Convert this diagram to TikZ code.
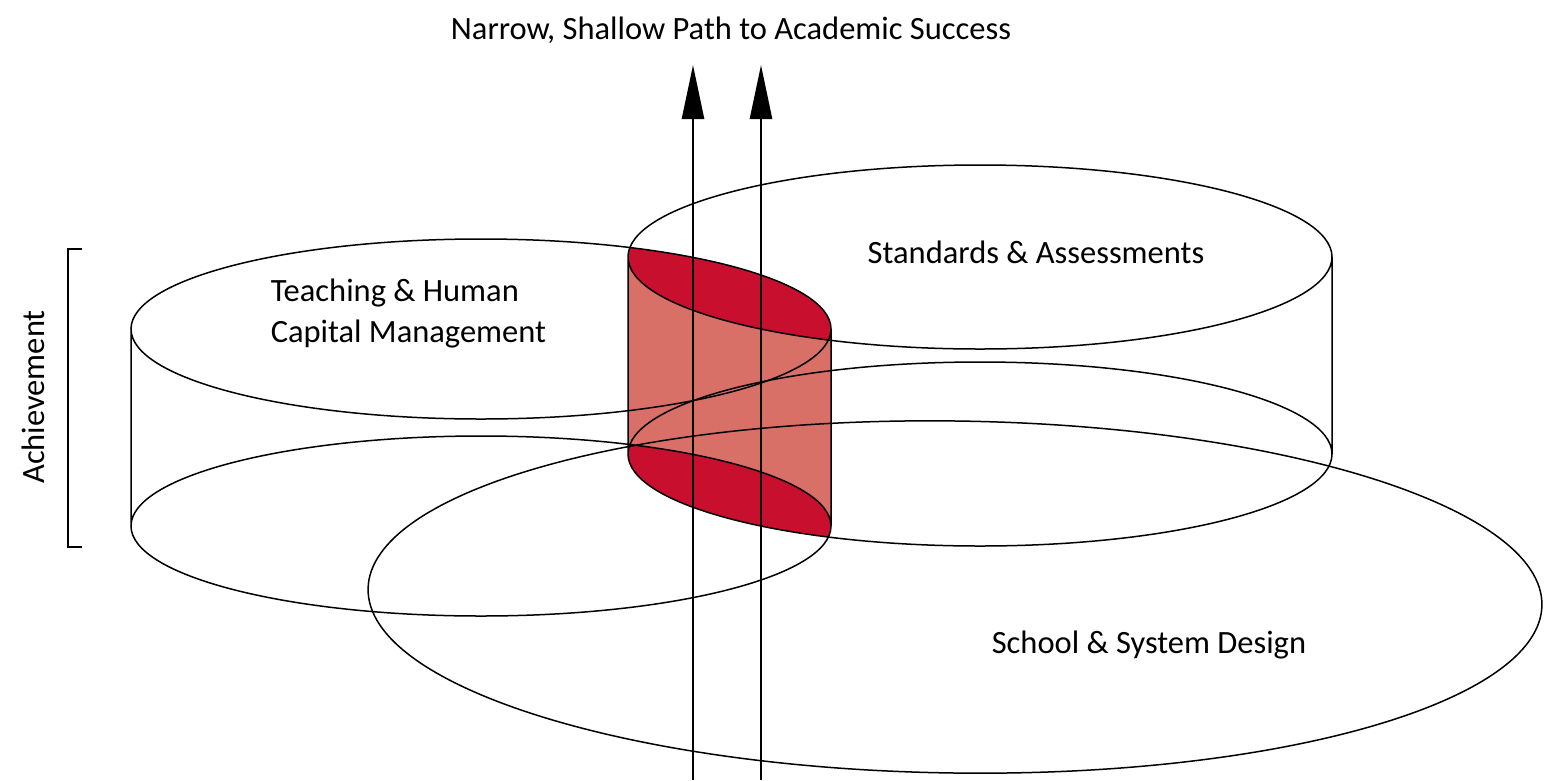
\documentclass[tikz,border=0pt]{standalone}
\usepackage{fontspec}
\setmainfont{Carlito}
\usetikzlibrary{arrows.meta}
\definecolor{lensred}{RGB}{200,16,46}
\definecolor{sidered}{RGB}{217,112,104}

\begin{document}
\begin{tikzpicture}[x=1pt,y=-1pt,line width=1.5pt,
  school/.style={rotate around={-0.8:(955,597)}},
  areatext/.style={font=\fontsize{32.5}{41}\selectfont,inner sep=0pt},
  success/.style={line width=2.6pt,-{Triangle[length=54pt,width=22pt]}}]
\useasboundingbox (0,0) rectangle (1545,780);

\begin{scope}
  \clip (131,329) arc[start angle=180,end angle=360,x radius=350,y radius=90]
    -- (831,526) arc[start angle=0,end angle=180,x radius=350,y radius=90] -- cycle;
  \clip (628,257) arc[start angle=180,end angle=360,x radius=352,y radius=92]
    -- (1332,454) arc[start angle=0,end angle=180,x radius=352,y radius=92] -- cycle;
  \fill[sidered] (600,200) rectangle (860,580);
\end{scope}
\begin{scope}
  \clip (481,329) ellipse[x radius=350,y radius=90];
  \fill[lensred] (980,257) ellipse[x radius=352,y radius=92];
\end{scope}
\begin{scope}
  \clip (481,526) ellipse[x radius=350,y radius=90];
  \fill[lensred] (980,454) ellipse[x radius=352,y radius=92];
\end{scope}

\draw (481,329) ellipse[x radius=350,y radius=90]
  (481,526) ellipse[x radius=350,y radius=90]
  (131,329) -- (131,526) (831,329) -- (831,526);
\draw (980,257) ellipse[x radius=352,y radius=92]
  (980,454) ellipse[x radius=352,y radius=92]
  (628,257) -- (628,454) (1332,257) -- (1332,454);
\draw[school] (955,597) ellipse[x radius=587,y radius=176];

\draw (82,249) -- (68,249) -- (68,547) -- (82,547);

\coordinate (deepL) at (693,780);
\coordinate (tipL) at (693,65);
\coordinate (deepR) at (761,780);
\coordinate (tipR) at (761,65);
\draw[success] (deepL) -- (tipL);
\draw[success] (deepR) -- (tipR);

\node[areatext] (pathlbl) at (731,30) {Narrow, Shallow Path to Academic Success};
\node[areatext,align=left,anchor=west] (teachlbl) at (270,314) {Teaching \& Human\\Capital Management};
\node[areatext] (standlbl) at (1036,252) {Standards \& Assessments};
\node[areatext] (schoollbl) at (1149,645) {School \& System Design};
\node[areatext,rotate=90] (achlbl) at (33,397) {Achievement};
\end{tikzpicture}
\end{document}
